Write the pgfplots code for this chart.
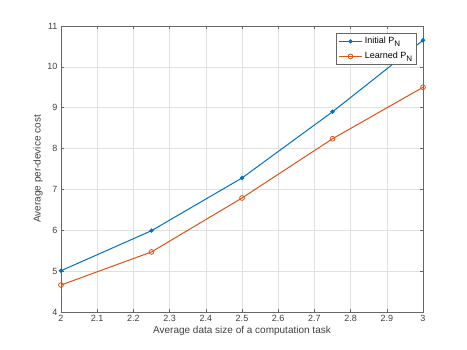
\documentclass[border=0pt]{standalone}
\usepackage{pgfplots}
\pgfplotsset{compat=1.18}
\usepackage{fontspec}
\setmainfont{Liberation Sans}
\definecolor{mblue}{rgb}{0,0.447,0.741}
\definecolor{morange}{rgb}{0.85,0.325,0.098}
\newcommand{\subN}{\raisebox{-2.5pt}{\fontsize{8}{8}\selectfont N}}
\begin{document}
\begin{tikzpicture}
\path (0pt,0pt) rectangle (467pt,350pt);
\begin{axis}[
  at={(61pt,38pt)}, anchor=south west,
  width=362pt, height=286pt, scale only axis,
  xmin=2, xmax=3, ymin=4, ymax=11,
  xtick={2,2.1,...,3.01}, ytick={4,5,...,11},
  xticklabel style={/pgf/number format/fixed,/pgf/number format/precision=1},
  /pgf/number format/assume math mode=true,
  tick label style={font=\fontsize{9}{10}\selectfont, color=black!75},
  label style={font=\fontsize{10}{12}\selectfont, color=black!75},
  xlabel={Average data size of a computation task},
  ylabel={Average per-device cost},
  xlabel style={yshift=3pt},
  ylabel style={yshift=-2pt},
  grid=major,
  major grid style={color=black!12, line width=0.5pt},
  axis line style={color=black!60, line width=0.5pt},
  tick style={color=black!60, line width=0.5pt},
  major tick length=3pt,
  tick align=inside,
  legend style={at={(0.982,0.975)}, anchor=north east, font=\fontsize{9}{10}\selectfont,
    draw=black!60, line width=0.5pt, inner xsep=2pt, inner ysep=2pt, row sep=3pt},
  legend image code/.code={\draw[mark repeat=2,mark phase=2] plot coordinates {(0cm,0cm)(0.42cm,0cm)(0.84cm,0cm)};},
  legend cell align=left,
]
\addplot[color=mblue, line width=1pt, mark=*, mark size=1.6pt, mark options={fill=mblue}]
  coordinates {(2,5.01) (2.25,5.99) (2.5,7.28) (2.75,8.90) (3,10.65)};
\addlegendentry{Initial P\subN}
\addplot[color=morange, line width=1pt, mark=o, mark size=2.4pt, mark options={line width=0.8pt}]
  coordinates {(2,4.66) (2.25,5.47) (2.5,6.79) (2.75,8.24) (3,9.50)};
\addlegendentry{Learned P\subN}
\end{axis}
\end{tikzpicture}
\end{document}
